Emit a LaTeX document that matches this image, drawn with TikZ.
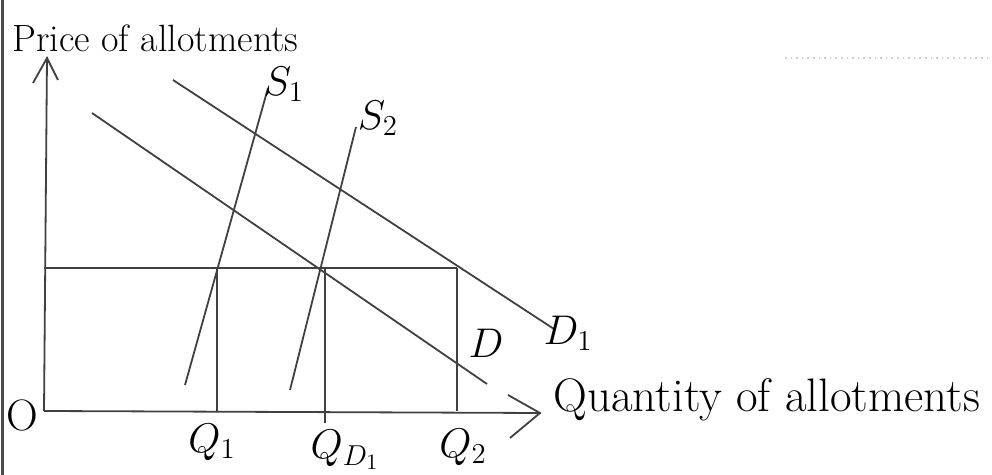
\documentclass[tikz,border=0pt]{standalone}
\begin{document}
\begin{tikzpicture}[x=0.5pt,y=-0.5pt,
  ln/.style={line width=0.9pt, draw=black!75},
  lbl/.style={font=\fontsize{22}{24}\selectfont, inner sep=0pt},
  title/.style={font=\fontsize{19}{22}\selectfont, inner sep=0pt}]
\useasboundingbox (0,0) rectangle (992,475);
% page edge and faint ruled line
\draw[line width=1.5pt, black!70] (2,0) -- (2,475);
\draw[black!20, dotted, line width=0.8pt] (785,58) -- (992,58);
% coordinates
\coordinate (o) at (44,411);
\coordinate (ytop) at (47,58);
\coordinate (ya1) at (33,83);
\coordinate (ya2) at (58,80);
\coordinate (xend) at (540,413);
\coordinate (xa1) at (508,395);
\coordinate (xa2) at (510,438);
\coordinate (p0) at (44,268);
\coordinate (p2) at (457,268);
\coordinate (q1t) at (217,268);
\coordinate (q1b) at (217,411);
\coordinate (qdt) at (325,268);
\coordinate (qdb) at (325,423);
\coordinate (q2b) at (457,411);
\coordinate (d0) at (92,113);
\coordinate (d1) at (487,384);
\coordinate (e0) at (173,80);
\coordinate (e1) at (554,329);
\coordinate (s10) at (185,385);
\coordinate (s11) at (268,88);
\coordinate (s20) at (290,390);
\coordinate (s21) at (356,127);
% axes
\draw[ln] (o) -- (ytop);
\draw[ln] (ya1) -- (ytop) -- (ya2);
\draw[ln] (o) -- (xend);
\draw[ln] (xa1) -- (xend) -- (xa2);
% price line and verticals
\draw[ln] (p0) -- (p2);
\draw[ln] (q1t) -- (q1b);
\draw[ln] (qdt) -- (qdb);
\draw[ln] (p2) -- (q2b);
% demand and supply
\draw[ln] (d0) -- (d1);
\draw[ln] (e0) -- (e1);
\draw[ln] (s10) -- (s11);
\draw[ln] (s20) -- (s21);
% labels
\node[title, anchor=west] (ptxt) at (12,38) {Price of allotments};
\node[title, anchor=west, font=\fontsize{23.5}{26}\selectfont] (qtxt) at (553,400) {Quantity of allotments};
\node[lbl] (olbl) at (22,415) {O};
\node[lbl] (q1lbl) at (212,442) {$Q_1$};
\node[lbl] (qdlbl) at (345,450) {$Q_{D_1}$};
\node[lbl] (q2lbl) at (463,447) {$Q_2$};
\node[lbl] (dlbl) at (486,343) {$D$};
\node[lbl] (d1lbl) at (568,333) {$D_1$};
\node[lbl] (s1lbl) at (284,84) {$S_1$};
\node[lbl] (s2lbl) at (378,118) {$S_2$};
\end{tikzpicture}
\end{document}
